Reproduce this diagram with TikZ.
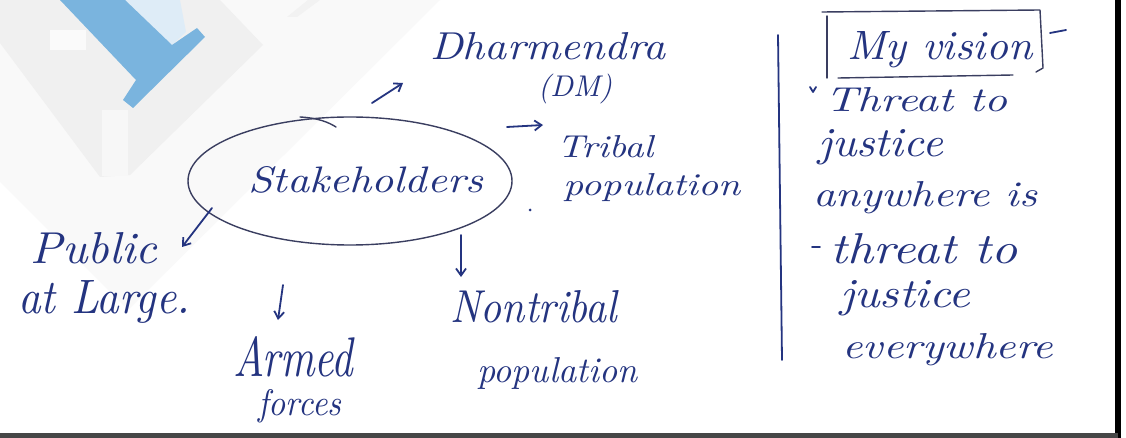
\documentclass[tikz,border=0pt]{standalone}
\usetikzlibrary{arrows.meta}
\definecolor{ink}{RGB}{36,52,128}
\definecolor{inkdark}{RGB}{58,62,96}
\definecolor{wmblue}{RGB}{122,180,222}
\newcommand{\hwt}[3]{\resizebox{#1pt}{#2pt}{\itshape #3}}
\begin{document}
\begin{tikzpicture}[x=1pt,y=-1pt,
  hw/.style={inner sep=0pt, anchor=base west, text=ink},
  pen/.style={draw=ink, line width=1.8pt, line cap=round, line join=round},
  thinpen/.style={draw=inkdark, line width=1.4pt, line cap=round, line join=round},
  arr/.style={pen, -{Straight Barb[length=7pt,width=10pt]}},
]
\useasboundingbox (0,0) rectangle (1126,438);
\fill[white] (0,0) rectangle (1126,438);
% watermark
\fill[gray!5] (0,0) -- (440,0) -- (128,310) -- (0,182) -- cycle;
\fill[gray!12] (0,0) -- (220,0) -- (263,45) -- (130,175) -- (100,177) -- (0,43) -- cycle;
\fill[gray!6] (102,110) -- (128,110) -- (128,176) -- (102,176) -- cycle;
\fill[gray!4] (50,30) -- (86,30) -- (86,50) -- (50,50) -- cycle;
\fill[gray!10] (287,17) -- (297,17) -- (320,0) -- (308,0) -- cycle;
\fill[wmblue!25] (125,0) -- (180,0) -- (186,32) -- (172,45) -- cycle;
\fill[wmblue] (60,0) -- (136,80) -- (123,100) -- (133,108) -- (205,37) -- (197,28) -- (172,45) -- (125,0) -- cycle;
% frame lines
\fill[black] (1115,0) rectangle (1121,438);
\fill[gray!55!black] (0,433) rectangle (1118,438);
% ellipse
\draw[thinpen] (350,181) ellipse [x radius=162, y radius=64];
\draw[thinpen] (300,117) .. controls (318,118) and (328,122) .. (336,127);
% text
\node[hw] (stake) at (248,193) {\hwt{235}{26}{Stakeholders}};
\node[hw] (dharm) at (430,60) {\hwt{235}{27}{Dharmendra}};
\node[hw] (dm) at (538,97) {\resizebox{74pt}{!}{\itshape (DM)}};
\node[hw] (tribal) at (557,158) {\hwt{96}{22}{Tribal}};
\node[hw] (pop1) at (563,196) {\hwt{177}{22}{population}};
\node[hw] (public) at (30,263) {\hwt{127}{31}{Public}};
\node[hw] (large) at (18,313) {\hwt{172}{33}{at Large.}};
\node[hw] (armed) at (233,376) {\hwt{120}{40}{Armed}};
\node[hw] (forces) at (258,415) {\hwt{83}{26}{forces}};
\node[hw] (nontrib) at (450,322) {\hwt{167}{32}{Nontribal}};
\node[hw] (pop2) at (477,382) {\hwt{160}{25}{population}};
\node[hw] (vision) at (847,60) {\hwt{185}{28}{My vision}};
\node[hw] (l1) at (825,112) {\hwt{182}{24}{Threat to}};
\node[hw] (l2) at (818,157) {\hwt{125}{27}{justice}};
\node[hw] (l3) at (813,207) {\hwt{224}{25}{anywhere is}};
\node[hw] (l4) at (830,263) {\hwt{187}{30}{threat to}};
\node[hw] (l5) at (840,307) {\hwt{130}{27}{justice}};
\node[hw] (l6) at (842,358) {\hwt{211}{25}{everywhere}};
% arrows
\coordinate (a1s) at (372,103); \coordinate (a1e) at (403,83);
\coordinate (a2s) at (507,127); \coordinate (a2e) at (543,125);
\coordinate (a3s) at (212,208); \coordinate (a3e) at (182,247);
\coordinate (a4s) at (283,285); \coordinate (a4e) at (278,320);
\coordinate (a5s) at (461,235); \coordinate (a5e) at (461,277);
\draw[arr] (a1s) -- (a1e);
\draw[arr] (a2s) -- (a2e);
\draw[arr] (a3s) -- (a3e);
\draw[arr] (a4s) -- (a4e);
\draw[arr] (a5s) -- (a5e);
\fill[ink] (530,210) circle (1.5pt);
% divider and box
\draw[pen] (778,35) -- (782,360);
\draw[thinpen] (827,16) -- (827,78);
\draw[thinpen] (822,12) -- (1040,10) -- (1043,68) -- (1036,72);
\draw[thinpen] (838,78) -- (1013,75);
\draw[pen] (1050,33) -- (1066,30);
% bullet and dash
\draw[pen] (810,87) -- (813,92) -- (816,87);
\draw[pen] (812,247) -- (820,247);
\end{tikzpicture}
\end{document}
